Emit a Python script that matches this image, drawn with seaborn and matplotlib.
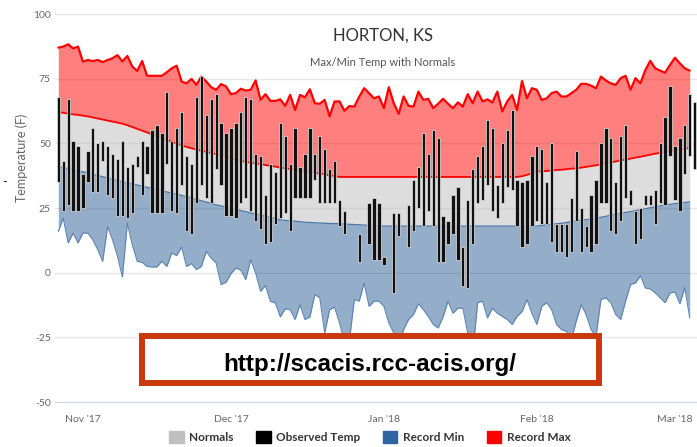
import numpy as np
import pandas as pd
import seaborn as sns
import matplotlib.pyplot as plt
import matplotlib.dates as mdates
from matplotlib.patches import Patch, Rectangle

nan = np.nan

# observed daily high / low (F), starting 27 Oct 2017
obs_high = [68, 43, 67, 51, 49, 38, 47, 56, 50, 51,
            49, 46, 44, 51, 41, 42, 45, 51, 49, 55,
            57, 54, 70, 51, 56, 62, 45, 42, 68, 76,
            61, 67, 69, 58, 54, 56, 58, 62, 68, 67,
            46, 45, 30, 42, 39, 58, 53, 42, 56, 41,
            46, 56, 46, 53, 48, 40, 43, 28, 24, nan,
            nan, 15, nan, 27, 29, 27, 6, nan, 23, 23,
            nan, 26, 36, 41, 54, 46, 55, 52, 22, 20,
            30, 33, 10, 28, 40, 45, 49, 59, 56, 34,
            50, 55, 63, 36, 35, 36, 45, 49, 48, 35,
            50, 19, 19, 19, 29, 47, 25, 18, 30, 36,
            50, 56, 52, 35, 53, 57, 32, 24, 25, 30,
            30, 32, 50, 60, 72, 49, 52, 57, 69, 66]
obs_low = [35, 24, 26, 24, 24, 25, 35, 31, 31, 43,
           30, 29, 22, 22, 21, 23, 41, 30, 38, 23,
           23, 23, 42, 24, 23, 34, 16, 15, 27, 34,
           29, 27, 40, 34, 22, 22, 21, 27, 29, 24,
           20, 17, 11, 12, 19, 21, 23, 16, 29, 29,
           29, 29, 36, 27, 27, 27, 27, 18, 15, nan,
           nan, 4, nan, 11, 5, 5, 3, nan, -8, 14,
           nan, 10, 16, 25, 18, 24, 18, 4, 4, 11,
           15, 5, -5, -6, 11, 27, 28, 34, 24, 21,
           27, 33, 32, 18, 10, 11, 18, 20, 19, 19,
           12, 8, 8, 6, 8, 20, 8, 10, 8, 11,
           27, 27, 16, 15, 20, 29, 26, 11, 13, 26,
           26, 19, 27, 26, 45, 28, 24, 38, 45, 40]

rec_max = [87, 87.4, 88.3, 86.7, 87.4, 81.6, 82.2, 81.8, 82.2, 81.4,
           82.2, 82.9, 84.1, 81.6, 83.8, 79.7, 78, 81.8, 76.1, 76.1,
           76.1, 76.1, 77.5, 79, 80, 73.9, 73.2, 74.9, 72.6, 75.8,
           73.9, 71.7, 70.7, 72.9, 72, 69, 69.4, 71.1, 70.4, 70.7,
           74.3, 66.8, 69, 66.4, 66.4, 67, 64.5, 68.7, 62.9, 68.7,
           67.8, 70.9, 65.5, 65.3, 66.8, 60.4, 66.2, 66.2, 62.6, 64.4,
           64.2, 68, 71.3, 69.4, 67.4, 68.1, 63.6, 71.7, 65.5, 61.4,
           68.1, 64.5, 64.2, 70, 66.8, 67.2, 63.6, 65.3, 67.2, 65.3,
           63.6, 65.8, 64.2, 69, 65.5, 70, 66.2, 67, 65.8, 70,
           62.3, 66.2, 68.7, 62.9, 74.1, 67.4, 71.3, 70.7, 66.8, 67.4,
           69.4, 70, 68.1, 68.1, 69.4, 70.7, 73, 73, 72.3, 71.3,
           75.8, 74.3, 73.2, 72.6, 75.2, 76.1, 70.7, 75.2, 73.2, 78.3,
           81.9, 79, 78.1, 77.3, 80.3, 83.1, 80.9, 79, 78.1]
rec_min = [15.9, 21.1, 11.5, 15.3, 11.5, 15.3, 15.3, 12.7, 8.9, 4.4,
           17.9, 12.7, 6.3, -1.7, 19.2, 10.8, 4.4, 4, 2.4, 2.2,
           2.2, 4.4, 2.4, 7.6, 6.6, 9.9, 2.4, 3.5, 1.2, 2.4,
           8.2, 5.6, 3.7, -4.6, -3.7, -0.4, 1.8, 1, -2.7, 5,
           -0.1, -7.2, -5, -11.1, -11.7, -17.1, -14, -14.3, -18.1, -12.4,
           -18.1, -17.1, -8.5, -9.7, -23.3, -14.3, -13.3, -19.4, -26.5, -26.5,
           -10.4, -11, -4, -13, -11, -11, -13, -19.4, -23.3, -29,
           -22, -18.1, -16.2, -12, -14.3, -16.9, -20, -21.4, -17.1, -11,
           -15.7, -13.7, -13.7, -23.3, -31.7, -11.6, -11, -17.5, -13.7, -15.7,
           -16.9, -18.1, -20, -16.9, -15.1, -10.4, -15.7, -20, -13, -11.6,
           -14.3, -20, -22, -22.7, -25.9, -18.7, -12.4, -16.2, -22, -24.6,
           -10.4, -9.7, -11.6, -16.2, -18.1, -11, -4.6, -4, -1.2, -5.9,
           -6.3, -7.8, -9.7, -11.6, -7.8, -7.5, -12, -5.9, -17.5]
norm_max = [62, 61.8, 61.5, 61.2, 61, 60.7, 60.4, 60, 59.6, 59.2,
            58.8, 58.4, 58, 57.6, 57, 56.3, 55.6, 54.9, 54.2, 53.5,
            52.7, 52, 51.3, 50.6, 49.9, 49.2, 48.6, 48.1, 47.6, 47.1,
            46.7, 46.2, 45.8, 45.3, 44.8, 44.3, 43.8, 43.3, 42.8, 42.5,
            42.2, 41.9, 41.6, 41.3, 41, 40.6, 40.3, 40, 39.8, 39.5,
            39.2, 39, 38.6, 38.3, 38, 37.6, 37.3, 37, 37, 37,
            37, 37, 37, 37, 37, 37, 37, 37, 37, 37,
            37, 37, 37, 37, 37, 37, 37, 37, 37, 37,
            37, 37, 37, 37, 37, 37, 37, 37, 37, 37,
            37, 37, 37, 37, 37.3, 37.8, 38.4, 39, 39.2, 39.3,
            39.5, 39.7, 39.8, 40, 40.2, 40.3, 40.6, 40.9, 41.2, 41.5,
            41.9, 42.3, 42.6, 43, 43.4, 43.7, 44.1, 44.5, 44.8, 45.2,
            45.6, 46, 46.3, 46.7, 47, 47.3, 47.6, 47.9, 48.2]
norm_min = [41, 40.6, 40.2, 39.8, 39.4, 39, 38.6, 38.1, 37.6, 37.1,
            36.6, 36.1, 35.6, 35.1, 34.7, 34.3, 33.9, 33.4, 33, 32.6,
            32.2, 31.7, 31.2, 30.8, 30.3, 29.9, 29.4, 28.9, 28.3, 27.8,
            27.3, 26.8, 26.2, 25.8, 25.4, 24.9, 24.5, 24, 23.6, 23.1,
            22.7, 22.3, 21.8, 21.4, 20.9, 20.4, 20.2, 20, 19.9, 19.7,
            19.5, 19.4, 19.3, 19.2, 19.1, 19, 19, 18.9, 18.8, 18.7,
            18.6, 18.5, 18.4, 18.3, 18.2, 18.1, 18, 18, 18, 18,
            18, 18, 18, 18, 18, 18, 18, 18, 18, 18,
            18, 18, 18, 18, 18, 18, 18, 18, 18, 18,
            18, 18, 18, 18, 18, 18, 18, 18, 18.3, 18.5,
            18.7, 18.9, 19.1, 19.4, 19.7, 20, 20.3, 20.5, 20.8, 21,
            21.4, 21.8, 22.2, 22.6, 22.9, 23.3, 23.6, 24, 24.4, 24.7,
            25.1, 25.5, 25.8, 26.2, 26.4, 26.7, 26.9, 27.1, 27.4]

start = pd.Timestamp('2017-10-27')
obs = pd.DataFrame({'date': pd.date_range(start, periods=len(obs_high), freq='D'),
                    'high': obs_high, 'low': obs_low})
rec = pd.DataFrame({'date': pd.date_range(start, periods=len(rec_max), freq='D'),
                    'rec_max': rec_max, 'rec_min': rec_min,
                    'norm_max': norm_max, 'norm_min': norm_min})

sns.set_style('white')
plt.rcParams['font.family'] = ['Lato', 'DejaVu Sans']
plt.rcParams['axes.unicode_minus'] = False

fig = plt.figure(figsize=(6.97, 4.47), dpi=100)
ax = fig.add_axes([55 / 697, 45 / 447, 642 / 697, 388 / 447])

# shaded bands
ax.fill_between(rec['date'], rec['norm_max'], rec['rec_max'], color='#ff0000', alpha=0.5, lw=0, zorder=1)
ax.fill_between(rec['date'], rec['norm_min'], rec['norm_max'], color='#bdbdbd', alpha=0.5, lw=0, zorder=1)
ax.fill_between(rec['date'], rec['rec_min'], rec['norm_min'], color='#2a5d93', alpha=0.5, lw=0, zorder=1)

sns.lineplot(data=rec, x='date', y='rec_max', color='#ff0000', linewidth=1.6, ax=ax, zorder=2)
sns.lineplot(data=rec, x='date', y='norm_max', color='#ff0000', linewidth=1.3, ax=ax, zorder=2)
sns.lineplot(data=rec, x='date', y='norm_min', color='#4a78aa', linewidth=0.9, ax=ax, zorder=2)
sns.lineplot(data=rec, x='date', y='rec_min', color='#5a84b3', linewidth=0.8, ax=ax, zorder=2)

# observed temps as floating bars
ax.bar(obs['date'], obs['high'] - obs['low'], bottom=obs['low'], width=0.66,
       color='#111111', edgecolor='#e4e4e4', linewidth=0.5, zorder=4)

ax.set_ylim(-50, 100)
ax.set_yticks([-50, -25, 0, 25, 50, 75, 100])
ax.set_xlim(start - pd.Timedelta(hours=16), start + pd.Timedelta(days=129.47))
ax.xaxis.set_major_locator(mdates.MonthLocator())
ax.xaxis.set_major_formatter(mdates.DateFormatter("%b '%y"))
ax.set_xlabel('')
ax.set_ylabel('')
ax.grid(axis='y', color='#e6e6e6', linewidth=1)
ax.grid(axis='x', visible=False)
ax.set_axisbelow(True)
for s in ['top', 'right', 'left']:
    ax.spines[s].set_visible(False)
ax.spines['bottom'].set_color('#ccd6eb')
ax.tick_params(axis='y', length=0, pad=3, labelsize=7.5, labelcolor='#666666')
ax.tick_params(axis='x', length=7, width=1, color='#ccd6eb', pad=2, labelsize=7.5, labelcolor='#666666')

fig.text(22 / 697, 1 - 158 / 447, 'Temperature (F)', rotation=90, ha='center', va='center',
         fontsize=9, color='#666666')
fig.text(383 / 697, 1 - 36 / 447, 'HORTON, KS', ha='center', va='center', fontsize=12, color='#333333')
fig.text(383 / 697, 1 - 63 / 447, 'Max/Min Temp with Normals', ha='center', va='center',
         fontsize=8, color='#555555')
fig.text(2 / 697, 1 - 182 / 447, '-', ha='left', va='center', fontsize=9, color='#222222')

handles = [Patch(color='#bfbfbf'), Patch(color='#000000'), Patch(color='#2f64a1'), Patch(color='#ff0000')]
labels = ['Normals', 'Observed Temp', 'Record Min', 'Record Max']
fig.legend(handles, labels, loc='center', bbox_to_anchor=(370 / 697, 1 - 437 / 447), ncol=4,
           frameon=False, prop={'weight': 'bold', 'size': 8.5}, labelcolor='#333333',
           handlelength=1.2, handleheight=1.2, handletextpad=0.5, columnspacing=1.9)

# source box
fig.add_artist(Rectangle((142 / 697, 1 - 383 / 447), 457 / 697, 47 / 447, transform=fig.transFigure,
                         facecolor='white', edgecolor='#c9390b', linewidth=4.3, zorder=10))
fig.text(370 / 697, 1 - 365 / 447, 'http://scacis.rcc-acis.org/', ha='center', va='center',
         fontsize=17.5, fontweight='bold', color='black', family='Liberation Sans', zorder=11)

fig.savefig('out.png', dpi=100)
